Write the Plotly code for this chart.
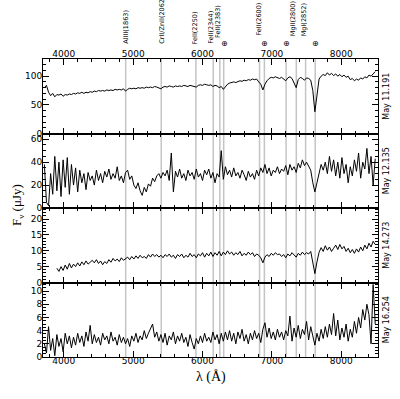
import plotly.graph_objects as go
from plotly.subplots import make_subplots

# wavelength grid start/step (Angstrom)
WL_START = 3720
WL_STEP = 30

flux_may11 = [80, 84, 72, 66, 70, 64, 68, 67, 69, 65, 68, 67, 69, 68, 70, 69, 71, 70, 72, 70,
              72, 71, 73, 72, 74, 73, 75, 74, 75, 74, 76, 75, 76, 75, 77, 76, 77, 76, 78, 74,
              77, 79, 78, 79, 78, 80, 79, 80, 79, 81, 80, 81, 80, 82, 81, 80, 78, 81, 82, 81,
              83, 82, 81, 83, 82, 83, 82, 84, 83, 82, 84, 83, 82, 81, 84, 85, 84, 86, 85, 84,
              85, 82, 84, 83, 80, 82, 77, 82, 86, 88, 89, 90, 89, 91, 92, 91, 93, 92, 94, 93,
              95, 94, 95, 90, 86, 76, 86, 92, 96, 98, 97, 99, 97, 96, 98, 95, 92, 97, 99, 96,
              88, 80, 94, 98, 96, 93, 97, 96, 93, 75, 38, 70, 95, 100, 103, 101, 106, 102, 105, 101,
              104, 100, 103, 99, 102, 98, 100, 94, 96, 92, 95, 93, 97, 95, 99, 97, 102, 100, 105, 108]

flux_may12 = [38, 5, 2, 30, 12, 45, 15, 40, 10, 42, 18, 44, 12, 38, 20, 35, 14, 33, 22, 30,
              16, 31, 24, 28, 20, 33, 24, 30, 22, 32, 27, 34, 25, 30, 26, 36, 24, 28, 22, 31,
              33, 25, 28, 20, 17, 22, 15, 11, 18, 14, 21, 19, 26, 23, 28, 30, 26, 31, 28, 33,
              24, 48, 14, 32, 27, 34, 26, 30, 24, 33, 28, 31, 25, 34, 27, 30, 24, 33, 29, 34,
              26, 31, 22, 30, 27, 50, 25, 36, 29, 33, 27, 35, 28, 31, 26, 33, 29, 24, 32, 27,
              30, 25, 33, 28, 35, 31, 38, 30, 35, 28, 33, 31, 36, 30, 34, 32, 37, 29, 38, 33,
              36, 31, 39, 35, 42, 37, 40, 36, 33, 22, 14, 22, 30, 38, 33, 40, 30, 45, 32, 42,
              28, 40, 26, 44, 30, 38, 22, 36, 28, 42, 32, 48, 26, 40, 34, 52, 30, 45, 20, 43]

flux_may14 = [None, None, None, None, None, None,
              4.5, 3.5, 5.0, 3.8, 5.5, 4.2, 6.0, 4.6, 5.8, 5.0, 6.2, 5.2, 6.5, 5.6,
              6.8, 5.8, 6.4, 7.0, 6.2, 7.2, 6.0, 6.8, 5.6, 6.6, 6.0, 7.2, 6.4, 7.6,
              6.8, 7.4, 6.6, 7.8, 7.0, 7.4, 8.0, 7.2, 8.2, 7.4, 8.4, 7.6, 8.6, 7.8,
              8.2, 7.6, 8.8, 8.0, 9.0, 8.2, 8.8, 8.0, 8.6, 7.8, 8.8, 8.2, 9.0, 8.0,
              8.6, 7.6, 8.8, 8.2, 9.0, 7.8, 8.6, 8.0, 9.2, 8.2, 8.8, 7.8, 9.0, 8.4,
              9.4, 8.0, 9.2, 8.4, 9.6, 8.2, 9.4, 8.6, 9.8, 8.4, 9.6, 8.8, 10.0, 9.0,
              9.6, 8.6, 9.4, 8.8, 9.8, 8.4, 9.2, 8.6, 9.6, 8.8, 9.4, 8.2, 9.0, 8.6,
              7.8, 6.2, 8.0, 8.8, 8.2, 9.2, 8.6, 9.4, 8.8, 9.0, 8.2, 8.8, 7.8, 9.0,
              8.4, 9.4, 8.6, 8.0, 9.2, 8.6, 9.6, 8.8, 9.4, 9.0, 9.8, 6.0, 2.8, 6.5,
              9.5, 11.0, 9.8, 11.6, 10.2, 11.2, 9.8, 10.8, 11.8, 10.4, 12.0, 10.6, 11.4, 9.8,
              10.8, 9.4, 10.4, 9.2, 10.6, 9.6, 11.2, 10.0, 11.8, 10.6, 12.4, 11.2, 13.0, 12.0]

flux_may16 = [2.0, 0.6, 4.6, 1.0, 2.8, 0.2, 3.4, 1.6, 2.8, 0.8, 3.6, 2.0, 3.2, 1.4, 3.0, 1.8, 3.6, 2.2, 3.2, 1.6,
              3.8, 2.4, 4.8, 2.0, 3.4, 2.2, 3.0, 1.8, 3.6, 2.6, 3.2, 2.0, 3.8, 2.4, 3.0, 1.8, 3.4, 2.2, 3.0, 2.0,
              2.8, 1.6, 3.2, 2.4, 3.6, 2.2, 3.2, 2.6, 4.0, 2.8, 3.6, 4.2, 5.0, 3.0, 3.8, 2.4, 3.4, 2.2, 3.6, 1.8,
              3.2, 2.6, 3.8, 2.0, 3.2, 2.4, 3.6, 2.2, 3.0, 1.6, 3.4, 2.2, 1.2, 2.8, 2.0, 3.2, 2.2, 3.6, 2.4, 3.0,
              2.2, 3.8, 2.6, 3.4, 2.0, 3.6, 2.4, 3.8, 2.6, 4.0, 2.4, 3.6, 2.0, 3.8, 2.8, 4.2, 2.4, 3.4, 2.0, 3.6,
              2.6, 4.0, 2.8, 3.6, 2.2, 4.2, 5.2, 3.0, 4.4, 2.8, 3.8, 2.6, 4.2, 3.0, 3.8, 2.6, 4.0, 3.2, 6.2, 2.4,
              4.4, 3.0, 4.8, 2.8, 4.2, 3.4, 5.4, 2.6, 4.6, 3.2, 1.8, 3.6, 2.4, 4.2, 2.8, 4.6, 3.0, 5.0, 3.4, 6.6,
              3.2, 5.6, 2.6, 4.4, 3.0, 5.0, 2.4, 4.2, 3.0, 5.4, 3.6, 6.0, 4.4, 7.2, 5.6, 8.0, 6.4, 2.0, 11.0, 5.0]

series = [flux_may11, flux_may12, flux_may14, flux_may16]
epochs = ["May 11.191", "May 12.135", "May 14.273", "May 16.254"]
y_ranges = [[0, 130], [0, 65], [0, 23.5], [0, 11.3]]
y_dticks = [50, 20, 5, 2]
y_minor = [10, 5, 1, 0.5]

# absorption / telluric line positions (observed Angstrom)
line_waves = [4892, 5405, 5905, 6155, 6250, 6305, 6822, 6892, 7205, 7352, 7486, 7625]

# label texts, wavelength position of text centre, pixel y of text bottom
label_texts = ["AlIII(1863)", "CrII/ZnII(2062)", "FeII(2250)", "FeII(2344)", "FeII(2383)",
               "FeII(2600)", "MgII(2800)", "MgI(2852)"]
label_waves = [4892, 5405, 5890, 6110, 6230, 6800, 7300, 7460]
label_bottom_px = [46, 46, 46, 46, 40, 38, 38, 38]

# telluric marker positions
telluric_waves = [6320, 6900, 7205, 7625]

X_RANGE = [3700, 8530]
W, H = 400, 399
ML, MR, MT, MB = 43, 22, 59, 42
PH = H - MT - MB

wl = [WL_START + WL_STEP * i for i in range(len(flux_may11))]

fig = make_subplots(rows=4, cols=1, shared_xaxes=True, vertical_spacing=0)

for i, s in enumerate(series):
    fig.add_trace(go.Scatter(x=wl[:len(s)], y=s, mode="lines",
                             line=dict(color="black", width=1), connectgaps=False,
                             showlegend=False, hoverinfo="skip"), row=i + 1, col=1)

tickfont = dict(family="DejaVu Sans", size=9, color="black")
for i in range(4):
    fig.update_yaxes(range=y_ranges[i], dtick=y_dticks[i], tick0=0,
                     ticks="inside", ticklen=6, tickwidth=1, tickcolor="black",
                     minor=dict(ticks="inside", ticklen=3, dtick=y_minor[i], tickcolor="black"),
                     showline=True, linecolor="black", linewidth=1, mirror="allticks",
                     showgrid=False, zeroline=False, tickfont=tickfont,
                     ticklabelstandoff=-2,
                     row=i + 1, col=1)
    fig.update_xaxes(range=X_RANGE, dtick=1000, tick0=0,
                     ticks="inside", ticklen=6, tickwidth=1, tickcolor="black",
                     minor=dict(ticks="inside", ticklen=3, dtick=200, tickcolor="black"),
                     showline=True, linecolor="black", linewidth=1, mirror="allticks",
                     showgrid=False, zeroline=False, tickfont=tickfont,
                     row=i + 1, col=1)
fig.update_xaxes(showticklabels=True, side="top", ticklabelstandoff=-3, row=1, col=1)
fig.update_xaxes(showticklabels=True, ticklabelstandoff=-5, row=4, col=1)

for w in line_waves:
    fig.add_shape(type="line", xref="x", yref="paper", x0=w, x1=w, y0=0, y1=1,
                  line=dict(color="#c4c4c4", width=1.5), layer="below")

def py(px):
    return (H - MB - px) / PH

for t, w, b in zip(label_texts, label_waves, label_bottom_px):
    fig.add_annotation(text=t, x=w, xref="x", y=py(b), yref="paper", textangle=-90,
                       xanchor="center", yanchor="bottom", showarrow=False,
                       font=dict(family="DejaVu Sans", size=6.5, color="black"))

for w in telluric_waves:
    fig.add_annotation(text="⊕", x=w, xref="x", y=py(43), yref="paper",
                       xanchor="center", yanchor="middle", showarrow=False,
                       font=dict(family="DejaVu Sans", size=8, color="black"))

for i, e in enumerate(epochs):
    fig.add_annotation(text=e, x=1, xref="paper", xshift=2, y=1 - (i + 0.5) / 4, yref="paper",
                       textangle=-90, xanchor="left", yanchor="middle", showarrow=False,
                       font=dict(family="DejaVu Sans", size=8, color="black"))

fig.add_annotation(text="F<sub>ν</sub> (μJy)", x=0, xref="paper", xshift=-26, y=py(205), yref="paper",
                   textangle=-90, xanchor="center", yanchor="middle", showarrow=False,
                   font=dict(family="Liberation Serif", size=13, color="black"))
fig.add_annotation(text="λ (Å)", x=0.5, xref="paper", y=py(377), yref="paper",
                   xanchor="center", yanchor="middle", showarrow=False,
                   font=dict(family="Liberation Serif", size=14, color="black"))

fig.update_layout(width=W, height=H, margin=dict(l=ML, r=MR, t=MT, b=MB),
                  plot_bgcolor="white", paper_bgcolor="white", showlegend=False)

fig.write_html("out.html", config={"displayModeBar": False},
               post_script="document.body.style.margin='0';document.body.style.overflow='hidden';")
